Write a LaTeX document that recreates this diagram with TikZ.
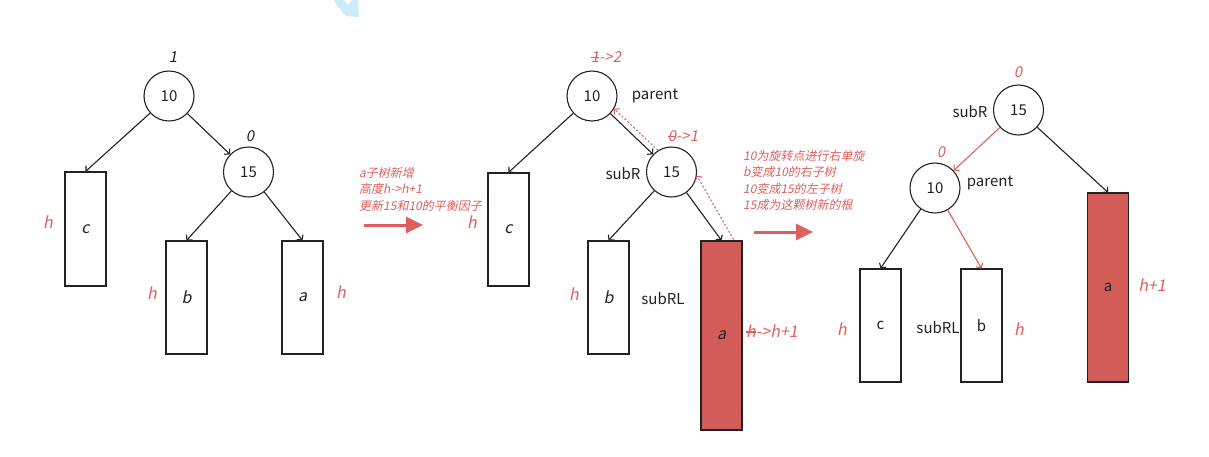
\documentclass[tikz,border=0pt]{standalone}
\usepackage{fontspec}
\setmainfont{Noto Sans CJK SC}[AutoFakeSlant=0.2]
\usetikzlibrary{arrows.meta,calc}
\definecolor{myred}{RGB}{222,96,94}
\definecolor{boxred}{RGB}{211,91,88}
\definecolor{ink}{RGB}{34,34,34}
\definecolor{cyanblob}{RGB}{204,236,250}
\newcommand\strk[1]{\setbox0\hbox{#1}\rlap{\raisebox{0.3em}{\rule{\wd0}{0.07em}}}\box0}
\begin{document}
\begin{tikzpicture}[x=1pt,y=-1pt,
  circ/.style={circle,draw=ink,line width=1.1pt,minimum size=50pt,inner sep=0pt,text=ink,font=\fontsize{15}{18}\selectfont},
  tbox/.style={draw=ink,line width=1.1pt,minimum width=41pt,inner sep=0pt,text=ink,font=\fontsize{16}{18}\selectfont\itshape},
  ubox/.style={tbox,font=\fontsize{15}{18}\selectfont},
  redbox/.style={fill=boxred},
  redlab/.style={text=myred,inner sep=0pt,font=\fontsize{16}{18}\selectfont\itshape},
  numlab/.style={text=myred,inner sep=0pt,font=\fontsize{15}{18}\selectfont\itshape},
  blklab/.style={text=ink,inner sep=0pt,font=\fontsize{15}{18}\selectfont\itshape},
  namelab/.style={text=ink,inner sep=0pt,font=\fontsize{15}{18}\selectfont},
  note/.style={text=myred,inner sep=0pt,align=left,anchor=west,font=\fontsize{12}{16.5}\selectfont\itshape},
  arr/.style={draw=ink,line width=1.1pt,-{Straight Barb[length=3.5pt,width=8pt]}},
  redarr/.style={draw=myred,line width=1.1pt,-{Straight Barb[length=3.5pt,width=8pt]}},
  dotarr/.style={draw=myred,line width=1pt,dash pattern=on 2pt off 2pt,-{Straight Barb[length=3.5pt,width=8pt]}},
  bigarr/.style={draw=myred,line width=3pt,-{Triangle[length=17pt,width=16pt]}}
]
\useasboundingbox (0,0) rectangle (1209,456);
\fill[white] (0,0) rectangle (1209,456);
% cyan fragment at top
\fill[cyanblob] (333,0) -- (343,13) -- (346,16) -- (359,17) -- (358,0) -- (352,0) -- (348,5) -- (343,0) -- cycle;

% ---------- Tree 1 ----------
\node[circ] (t1a) at (169,96) {10};
\node[circ] (t1b) at (248.5,172) {15};
\node[tbox,minimum height=114pt] (c1) at (85.5,229) {c};
\node[tbox,minimum height=113pt] (b1) at (186.5,297.5) {b};
\node[tbox,minimum height=113pt] (a1) at (302.5,297.5) {a};
\node[blklab] (l1a) at (173,57) {1};
\node[blklab] (l1b) at (250,136) {0};
\node[redlab] (h1c) at (48,222) {h};
\node[redlab] (h1b) at (152,293) {h};
\node[redlab] (h1a) at (341,292) {h};
\draw[arr] (t1a) -- (c1.north);
\draw[arr] (t1a) -- (t1b);
\draw[arr] (t1b) -- (b1.north);
\draw[arr] (t1b) -- (a1.north);

% note 1 + arrow
\node[note] (n1) at (359,189) {a子树新增\\高度h->h+1\\更新15和10的平衡因子};
\coordinate (g1s) at (364,225);
\coordinate (g1e) at (423,225);
\draw[bigarr] (g1s) -- (g1e);

% ---------- Tree 2 ----------
\node[circ] (t2a) at (592,96) {10};
\node[circ] (t2b) at (671.5,172) {15};
\node[tbox,minimum height=113pt] (c2) at (508.5,229.5) {c};
\node[tbox,minimum height=113pt] (b2) at (608.5,297.5) {b};
\node[tbox,redbox,minimum height=189pt] (a2) at (721.5,335.5) {a};
\node[numlab] (l2a) at (606,57) {\strk{1}->2};
\node[numlab] (l2b) at (683,136) {\strk{0}->1};
\node[namelab] (p2) at (655,96) {parent};
\node[namelab] (s2) at (623,174) {subR};
\node[namelab] (r2) at (663,299) {subRL};
\node[redlab] (h2c) at (472,222) {h};
\node[redlab] (h2b) at (574,294) {h};
\node[redlab] (h2a) at (772,331) {\strk{h}->h+1};
\draw[arr] (t2a) -- (c2.north);
\draw[arr] (t2a) -- (t2b);
\draw[arr] (t2b) -- (b2.north);
\draw[arr] (t2b) -- (a2.north);
\draw[dotarr] (t2b.122) -- (t2a.-30);
\coordinate (d2s) at ($(a2.north east)+(-9,-1)$);
\draw[dotarr] (d2s) -- (t2b.-8);

% note 2 + arrow
\node[note] (n2) at (743,180.5) {10为旋转点进行右单旋\\b变成10的右子树\\10变成15的左子树\\15成为这颗树新的根};
\coordinate (g2s) at (754,232);
\coordinate (g2e) at (813,232);
\draw[bigarr] (g2s) -- (g2e);

% ---------- Tree 3 ----------
\node[circ] (t3a) at (1018.5,110) {15};
\node[circ] (t3b) at (935,188) {10};
\node[ubox,minimum height=113pt] (c3) at (880.5,325.5) {c};
\node[ubox,minimum height=113pt] (b3) at (981.5,325.5) {b};
\node[ubox,redbox,minimum height=189pt] (a3) at (1108,287.5) {a};
\node[numlab] (l3a) at (1018,72) {0};
\node[numlab] (l3b) at (941,152) {0};
\node[namelab] (s3) at (970,112) {subR};
\node[namelab] (p3) at (990,183) {parent};
\node[namelab] (r3) at (938,328) {subRL};
\node[redlab] (h3a) at (1152,285) {h+1};
\node[redlab] (h3c) at (842,329) {h};
\node[redlab] (h3b) at (1019,329) {h};
\draw[redarr] (t3a) -- (t3b);
\draw[arr] (t3a) -- (a3.north);
\draw[arr] (t3b) -- (c3.north);
\draw[redarr] (t3b) -- (b3.north);
\end{tikzpicture}
\end{document}
